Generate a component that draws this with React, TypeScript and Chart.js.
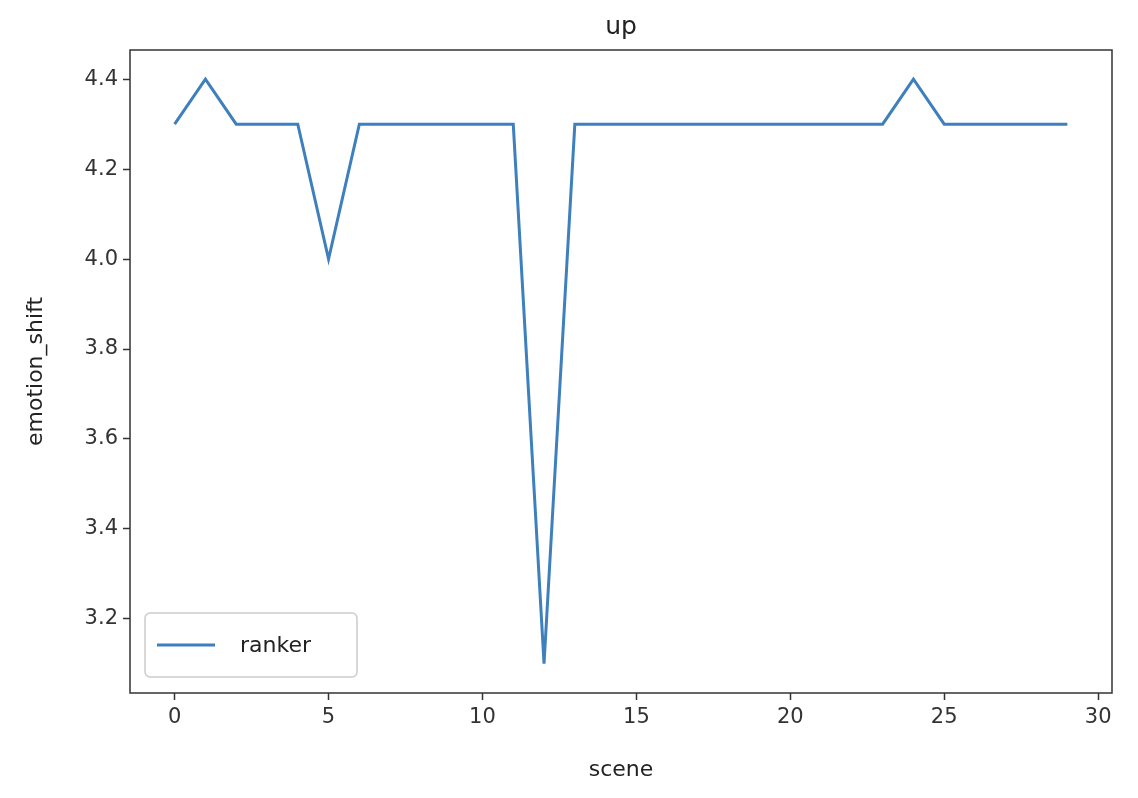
import React, { useEffect, useRef } from 'react'
import { Chart, registerables } from 'chart.js'

Chart.register(...registerables)

const scenes = Array.from({ length: 30 }, (_, i) => i)
const rankerValues = [
  4.3, 4.4, 4.3, 4.3, 4.3, 4.0, 4.3, 4.3, 4.3, 4.3,
  4.3, 4.3, 3.1, 4.3, 4.3, 4.3, 4.3, 4.3, 4.3, 4.3,
  4.3, 4.3, 4.3, 4.3, 4.4, 4.3, 4.3, 4.3, 4.3, 4.3,
]
const xTicks = [0, 5, 10, 15, 20, 25, 30]
const yTicks = [3.2, 3.4, 3.6, 3.8, 4.0, 4.2, 4.4]
const lineColor = '#3e7fbd'
const font = 'DejaVu Sans'

const frame = {
  id: 'frame',
  afterDraw(chart: any) {
    const { ctx, chartArea: a } = chart
    ctx.save()
    ctx.strokeStyle = '#333'
    ctx.lineWidth = 1.5
    ctx.strokeRect(a.left, a.top, a.right - a.left, a.bottom - a.top)
    ctx.fillStyle = '#222'
    ctx.font = `25px "${font}"`
    ctx.textAlign = 'center'
    ctx.textBaseline = 'middle'
    ctx.fillText('up', (a.left + a.right) / 2, 27)
    ctx.font = `22px "${font}"`
    ctx.fillText('scene', (a.left + a.right) / 2, 770)
    ctx.translate(36, (a.top + a.bottom) / 2)
    ctx.rotate(-Math.PI / 2)
    ctx.fillText('emotion_shift', 0, 0)
    ctx.restore()
    // legend box inside bottom-left
    ctx.save()
    const x = a.left + 15, y = a.bottom - 80, w = 212, h = 64
    ctx.fillStyle = 'rgba(255,255,255,0.8)'
    ctx.strokeStyle = '#ccc'
    ctx.lineWidth = 1.5
    ctx.beginPath()
    ctx.roundRect(x, y, w, h, 5)
    ctx.fill()
    ctx.stroke()
    ctx.strokeStyle = lineColor
    ctx.lineWidth = 3
    ctx.beginPath()
    ctx.moveTo(x + 12, y + h / 2)
    ctx.lineTo(x + 70, y + h / 2)
    ctx.stroke()
    ctx.fillStyle = '#222'
    ctx.font = `22px "${font}"`
    ctx.textBaseline = 'middle'
    ctx.fillText('ranker', x + 95, y + h / 2 + 1)
    ctx.restore()
  },
}

const App = () => {
  const ref = useRef<HTMLCanvasElement | null>(null)

  useEffect(() => {
    if (!ref.current) return
    const chart = new Chart(ref.current, {
      type: 'line',
      data: {
        datasets: [
          {
            label: 'ranker',
            data: scenes.map((s, i) => ({ x: s, y: rankerValues[i] })),
            borderColor: lineColor,
            borderWidth: 3,
            pointRadius: 0,
            tension: 0,
          },
        ],
      },
      options: {
        animation: false,
        responsive: false,
        layout: { padding: { top: 50, right: 26, left: 0, bottom: 0 } },
        plugins: { legend: { display: false }, tooltip: { enabled: false } },
        scales: {
          x: {
            type: 'linear',
            min: -1.45,
            max: 30.45,
            afterBuildTicks: (ax: any) => { ax.ticks = xTicks.map((v) => ({ value: v })) },
            afterFit: (ax: any) => { ax.height = 105 },
            grid: { drawOnChartArea: false, drawTicks: true, tickLength: 7, tickColor: '#333', tickWidth: 1.5 } as any,
            border: { display: false },
            ticks: { color: '#333', font: { family: font, size: 21 }, padding: 5, maxRotation: 0 },
          },
          y: {
            min: 3.035,
            max: 4.465,
            afterBuildTicks: (ax: any) => { ax.ticks = yTicks.map((v) => ({ value: v })) },
            afterFit: (ax: any) => { ax.width = 130 },
            grid: { drawOnChartArea: false, drawTicks: true, tickLength: 7, tickColor: '#333', tickWidth: 1.5 } as any,
            border: { display: false },
            ticks: {
              color: '#333',
              font: { family: font, size: 21 },
              padding: 5,
              callback: (v: any) => Number(v).toFixed(1),
            },
          },
        },
      },
      plugins: [frame],
    })
    return () => chart.destroy()
  }, [])

  return (
    <div style={{ position: 'absolute', left: 0, top: 0, background: '#fff' }}>
      <canvas ref={ref} width={1138} height={798} style={{ width: 1138, height: 798 }} />
    </div>
  )
}

export default App
